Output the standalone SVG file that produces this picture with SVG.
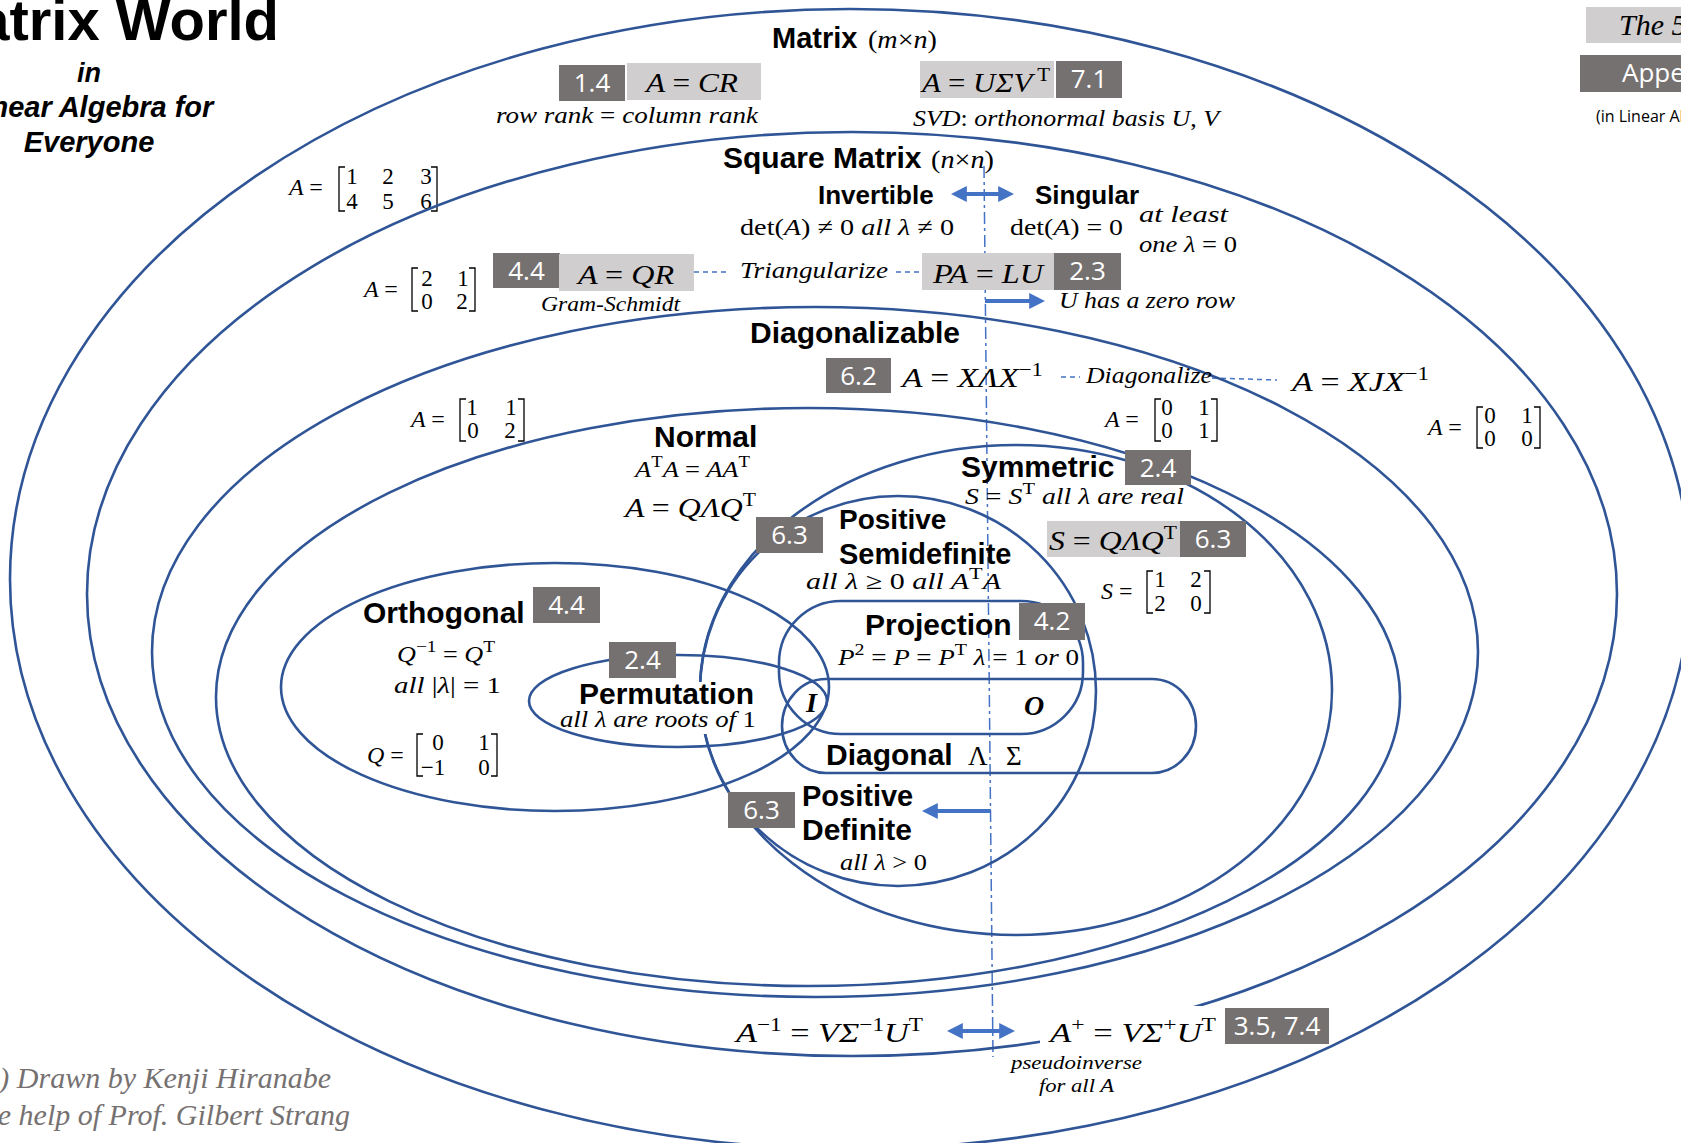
<svg xmlns="http://www.w3.org/2000/svg" width="1681" height="1143" viewBox="0 0 1681 1143">
<style>
.el{fill:none;stroke:#2F5597;stroke-width:2.6}
.lbl{font-family:"Liberation Sans",Arial,sans-serif;font-weight:bold;fill:#000}
.m{font-family:"Liberation Serif","DejaVu Serif",serif;font-style:italic;fill:#000}
.u{font-style:normal}
.d{font-family:"Liberation Serif","DejaVu Serif",serif;font-size:23px;fill:#000;text-anchor:middle}
.br{fill:none;stroke:#000;stroke-width:1.3}
.dk{fill:#767171}
.lt{fill:#D0CECE}
.num{font-family:"Open Sans","Noto Sans",sans-serif;fill:#fff;font-size:26px;text-anchor:middle}
.wb{fill:#fff}
.conn{fill:none;stroke:#4472C4}
.arr{stroke-width:4}
.dsh{stroke-width:1.5;stroke-dasharray:5 4}
.vd{stroke-width:1.5;stroke-dasharray:12 4 3 4}
.ttl{font-family:"Liberation Sans",Arial,sans-serif;font-weight:bold;font-style:italic;fill:#000;text-anchor:middle}
.foot{font-family:"Liberation Serif",serif;font-style:italic;fill:#767171;font-size:30px;text-anchor:end}
</style>
<defs>
<marker id="ah" viewBox="0 0 10 10" refX="3" refY="5" markerWidth="16" markerHeight="16" markerUnits="userSpaceOnUse" orient="auto-start-reverse">
<path d="M0,0 L10,5 L0,10 z" fill="#4472C4"/>
</marker>
</defs>
<rect width="1681" height="1143" fill="#fff"/>

<g id="title">
<text class="lbl" x="279" y="40" font-size="58" text-anchor="end">Matrix World</text>
<text class="ttl" x="89" y="82" font-size="27">in</text>
<text class="ttl" x="89" y="117" font-size="29">Linear Algebra for</text>
<text class="ttl" x="89" y="152" font-size="29">Everyone</text>
</g>

<g id="topright">
<rect class="lt" x="1586" y="7" width="100" height="36"/>
<text class="m" x="1619" y="35" font-size="30">The 5 Factorizations of a Matrix</text>
<rect class="dk" x="1580" y="55" width="110" height="37"/>
<text class="num" x="1622" y="82" style="text-anchor:start">Appendix</text>
<text x="1596" y="122" font-family="Open Sans, Noto Sans, sans-serif" font-size="16" fill="#000">(in Linear Algebra for Everyone)</text>
</g>

<g id="footer">
<text class="foot" x="331" y="1088">(c) Drawn by Kenji Hiranabe</text>
<text class="foot" x="350" y="1125">With the help of Prof. Gilbert Strang</text>
</g>

<g id="connectors">
<path class="conn vd" d="M984,166 L993,1057"/>
<path class="conn arr" d="M962,194 H1003" marker-start="url(#ah)" marker-end="url(#ah)"/>
<path class="conn arr" d="M985,301 H1034" marker-end="url(#ah)"/>
<path class="conn arr" d="M991,811 H933" marker-end="url(#ah)"/>
<path class="conn arr" d="M958,1031 H1004" marker-start="url(#ah)" marker-end="url(#ah)"/>
<path class="conn dsh" d="M694,272 H730 M896,272 H922"/>
<path class="conn dsh" d="M1061,377 H1080 M1212,378 L1277,380"/>
</g>

<g id="matrix">
<ellipse class="el" cx="850" cy="579" rx="840" ry="570"/>
<text class="lbl" x="772" y="48" font-size="29">Matrix</text>
<text class="m" x="868" y="48" font-size="25" textLength="69" lengthAdjust="spacingAndGlyphs"><tspan class="u">(</tspan>m<tspan class="u">×</tspan>n<tspan class="u">)</tspan></text>
<rect class="dk" x="559" y="65" width="66" height="36"/>
<text class="num" x="592" y="92">1.4</text>
<rect class="lt" x="627" y="63" width="134" height="37"/>
<text class="m" x="646" y="92" font-size="28" textLength="92" lengthAdjust="spacingAndGlyphs">A <tspan class="u">=</tspan> CR</text>
<text class="m" x="496" y="123" font-size="23" textLength="262" lengthAdjust="spacingAndGlyphs">row rank <tspan class="u">=</tspan> column rank</text>
<rect class="lt" x="920" y="61" width="134" height="37"/>
<text class="m" x="922" y="92" font-size="28" textLength="128" lengthAdjust="spacingAndGlyphs">A <tspan class="u">=</tspan> UΣV<tspan class="u" dy="-11" font-size="19"> T</tspan></text>
<rect class="dk" x="1056" y="61" width="66" height="37"/>
<text class="num" x="1089" y="88">7.1</text>
<text class="m" x="913" y="126" font-size="23" textLength="306" lengthAdjust="spacingAndGlyphs">SVD<tspan class="u">:</tspan>  orthonormal basis U<tspan class="u">,</tspan> V</text>
<text class="m" x="289" y="195" font-size="24">A <tspan class="u">=</tspan></text>
<path class="br" d="M345,167 H339 V211 H345 M431,167 H437 V211 H431"/>
<text class="d" x="352" y="184">1</text><text class="d" x="388" y="184">2</text><text class="d" x="426" y="184">3</text>
<text class="d" x="352" y="209">4</text><text class="d" x="388" y="209">5</text><text class="d" x="426" y="209">6</text>
</g>

<g id="square">
<ellipse class="el" cx="852" cy="594" rx="765" ry="462"/>
<text class="lbl" x="723" y="168" font-size="30">Square Matrix</text>
<text class="m" x="931" y="168" font-size="25" textLength="63" lengthAdjust="spacingAndGlyphs"><tspan class="u">(</tspan>n<tspan class="u">×</tspan>n<tspan class="u">)</tspan></text>
<text class="m" x="364" y="297" font-size="24">A <tspan class="u">=</tspan></text>
<path class="br" d="M418,268 H412 V311 H418 M469,268 H475 V311 H469"/>
<text class="d" x="427" y="286">2</text><text class="d" x="463" y="286">1</text>
<text class="d" x="427" y="309">0</text><text class="d" x="462" y="309">2</text>
<text class="m" x="740" y="278" font-size="24" textLength="148" lengthAdjust="spacingAndGlyphs">Triangularize</text>
<text class="m" x="1428" y="435" font-size="24">A <tspan class="u">=</tspan></text>
<path class="br" d="M1483,407 H1477 V448 H1483 M1534,407 H1540 V448 H1534"/>
<text class="d" x="1490" y="423">0</text><text class="d" x="1527" y="423">1</text>
<text class="d" x="1490" y="446">0</text><text class="d" x="1527" y="446">0</text>
<text class="m" x="1292" y="391" font-size="28" textLength="137" lengthAdjust="spacingAndGlyphs">A <tspan class="u">=</tspan> XJX<tspan class="u" dy="-11" font-size="19">−1</tspan></text>
</g>

<g id="invertible">
<text class="lbl" x="818" y="204" font-size="26">Invertible</text>
<text class="m" x="740" y="235" font-size="24" textLength="214" lengthAdjust="spacingAndGlyphs"><tspan class="u">det(</tspan>A<tspan class="u">) ≠ 0  </tspan>all λ <tspan class="u">≠ 0</tspan></text>
<rect class="dk" x="493" y="253" width="67" height="35"/>
<text class="num" x="526.5" y="280">4.4</text>
<rect class="lt" x="559" y="254" width="135" height="37"/>
<text class="m" x="578" y="284" font-size="28" textLength="96" lengthAdjust="spacingAndGlyphs">A <tspan class="u">=</tspan> QR</text>
<text class="m" x="541" y="311" font-size="21" textLength="139" lengthAdjust="spacingAndGlyphs">Gram-Schmidt</text>
</g>

<g id="singular">
<text class="lbl" x="1035" y="204" font-size="26">Singular</text>
<text class="m" x="1010" y="235" font-size="24" textLength="113" lengthAdjust="spacingAndGlyphs"><tspan class="u">det(</tspan>A<tspan class="u">)  = 0</tspan></text>
<text class="m" x="1139" y="222" font-size="23" textLength="89" lengthAdjust="spacingAndGlyphs">at least</text>
<text class="m" x="1139" y="252" font-size="23" textLength="98" lengthAdjust="spacingAndGlyphs">one λ <tspan class="u">= 0</tspan></text>
<rect class="lt" x="922" y="253" width="132" height="37"/>
<text class="m" x="933" y="283" font-size="28" textLength="110" lengthAdjust="spacingAndGlyphs">PA <tspan class="u">=</tspan> LU</text>
<rect class="dk" x="1054" y="253" width="67" height="37"/>
<text class="num" x="1087.5" y="280">2.3</text>
<text class="m" x="1059" y="308" font-size="23" textLength="176" lengthAdjust="spacingAndGlyphs">U has a zero row</text>
</g>

<g id="diagonalizable">
<ellipse class="el" cx="815" cy="652" rx="663" ry="345"/>
<text class="lbl" x="750" y="343" font-size="30">Diagonalizable</text>
<rect class="dk" x="826" y="358" width="65" height="35"/>
<text class="num" x="858.5" y="385">6.2</text>
<text class="m" x="902" y="387" font-size="28" textLength="141" lengthAdjust="spacingAndGlyphs">A <tspan class="u">=</tspan> XΛX<tspan class="u" dy="-11" font-size="19">−1</tspan></text>
<text class="m" x="1086" y="383" font-size="23" textLength="126" lengthAdjust="spacingAndGlyphs">Diagonalize</text>
<text class="m" x="411" y="427" font-size="24">A <tspan class="u">=</tspan></text>
<path class="br" d="M466,399 H460 V441 H466 M518,399 H524 V441 H518"/>
<text class="d" x="472" y="415">1</text><text class="d" x="511" y="415">1</text>
<text class="d" x="473" y="438">0</text><text class="d" x="510" y="438">2</text>
<text class="m" x="1105" y="427" font-size="24">A <tspan class="u">=</tspan></text>
<path class="br" d="M1161,399 H1155 V441 H1161 M1211,399 H1217 V441 H1211"/>
<text class="d" x="1167" y="415">0</text><text class="d" x="1204" y="415">1</text>
<text class="d" x="1167" y="438">0</text><text class="d" x="1204" y="438">1</text>
</g>

<g id="normal">
<ellipse class="el" cx="808" cy="697" rx="592" ry="289"/>
<text class="lbl" x="654" y="447" font-size="30">Normal</text>
<text class="m" x="635" y="477" font-size="24" textLength="115" lengthAdjust="spacingAndGlyphs">A<tspan class="u" dy="-10" font-size="17">T</tspan><tspan dy="10">A </tspan><tspan class="u">=</tspan> AA<tspan class="u" dy="-10" font-size="17">T</tspan></text>
<text class="m" x="625" y="517" font-size="28" textLength="131" lengthAdjust="spacingAndGlyphs">A <tspan class="u">=</tspan> QΛQ<tspan class="u" dy="-11" font-size="19">T</tspan></text>
</g>

<g id="symmetric">
<ellipse class="el" cx="1016" cy="690" rx="316" ry="245"/>
<text class="lbl" x="961" y="477" font-size="30">Symmetric</text>
<rect class="dk" x="1125" y="450" width="66" height="35"/>
<text class="num" x="1158" y="477">2.4</text>
<text class="m" x="965" y="504" font-size="23" textLength="219" lengthAdjust="spacingAndGlyphs">S <tspan class="u">=</tspan> S<tspan class="u" dy="-10" font-size="17">T</tspan><tspan dy="10">   all λ are real</tspan></text>
<rect class="lt" x="1047" y="521" width="133" height="36"/>
<text class="m" x="1049" y="550" font-size="28" textLength="128" lengthAdjust="spacingAndGlyphs">S <tspan class="u">=</tspan> QΛQ<tspan class="u" dy="-11" font-size="19">T</tspan></text>
<rect class="dk" x="1180" y="521" width="66" height="36"/>
<text class="num" x="1213" y="548">6.3</text>
<text class="m" x="1101" y="599" font-size="24">S <tspan class="u">=</tspan></text>
<path class="br" d="M1153,571 H1147 V613 H1153 M1204,571 H1210 V613 H1204"/>
<text class="d" x="1160" y="587">1</text><text class="d" x="1196" y="587">2</text>
<text class="d" x="1160" y="611">2</text><text class="d" x="1196" y="611">0</text>
</g>

<g id="semidefinite">
<ellipse class="el" cx="898" cy="691" rx="198" ry="195"/>
<rect class="dk" x="756" y="517" width="67" height="36"/>
<text class="num" x="789.5" y="544">6.3</text>
<text class="lbl" x="839" y="529" font-size="28">Positive</text>
<text class="lbl" x="839" y="564" font-size="29">Semidefinite</text>
<text class="m" x="806" y="589" font-size="23" textLength="195" lengthAdjust="spacingAndGlyphs">all λ <tspan class="u">≥ 0    </tspan>all A<tspan class="u" dy="-10" font-size="17">T</tspan><tspan dy="10">A</tspan></text>
</g>

<g id="orthogonal">
<ellipse class="el" cx="555" cy="687" rx="274" ry="124"/>
<text class="lbl" x="363" y="623" font-size="30">Orthogonal</text>
<rect class="dk" x="533" y="587" width="67" height="36"/>
<text class="num" x="566.5" y="614">4.4</text>
<text class="m" x="397" y="662" font-size="23" textLength="98" lengthAdjust="spacingAndGlyphs">Q<tspan class="u" dy="-10" font-size="17">−1</tspan><tspan dy="10"> </tspan><tspan class="u">=</tspan> Q<tspan class="u" dy="-10" font-size="17">T</tspan></text>
<text class="m" x="394" y="693" font-size="23" textLength="107" lengthAdjust="spacingAndGlyphs">all  <tspan class="u">|</tspan>λ<tspan class="u">| = 1</tspan></text>
<text class="m" x="367" y="763" font-size="24">Q <tspan class="u">=</tspan></text>
<path class="br" d="M423,734 H417 V776 H423 M491,734 H497 V776 H491"/>
<text class="d" x="438" y="750">0</text><text class="d" x="484" y="750">1</text>
<text class="d" x="433" y="775">−1</text><text class="d" x="484" y="775">0</text>
</g>

<g id="permutation">
<ellipse class="el" cx="678" cy="701" rx="149" ry="46"/>
<rect class="wb" x="578" y="682" width="180" height="52"/>
<rect class="dk" x="609" y="642" width="67" height="36"/>
<text class="num" x="642.5" y="669">2.4</text>
<text class="lbl" x="579" y="704" font-size="30">Permutation</text>
<text class="m" x="560" y="727" font-size="23" textLength="196" lengthAdjust="spacingAndGlyphs">all  λ are roots of <tspan class="u">1</tspan></text>
</g>

<g id="projection">
<rect class="el" x="779" y="601" width="304" height="133" rx="62" ry="62"/>
<text class="lbl" x="865" y="635" font-size="30">Projection</text>
<rect class="dk" x="1019" y="603" width="66" height="37"/>
<text class="num" x="1052" y="630">4.2</text>
<text class="m" x="838" y="665" font-size="23" textLength="241" lengthAdjust="spacingAndGlyphs">P<tspan class="u" dy="-10" font-size="17">2</tspan><tspan dy="10"> </tspan><tspan class="u">=</tspan> P <tspan class="u">=</tspan> P<tspan class="u" dy="-10" font-size="17">T</tspan><tspan dy="10">  λ </tspan><tspan class="u">= 1 </tspan>or <tspan class="u">0</tspan></text>
</g>

<g id="diagonal">
<rect class="el" x="782" y="679" width="414" height="94" rx="44" ry="47"/>
<text class="lbl" x="826" y="765" font-size="30">Diagonal</text>
<text class="m u" x="968" y="765" font-size="27">Λ</text>
<text class="m u" x="1006" y="765" font-size="27">Σ</text>
</g>

<g id="identity">
<text class="m" x="806" y="712" font-size="28" font-weight="bold">I</text>
</g>
<g id="zero">
<text class="m" x="1024" y="715" font-size="28" font-weight="bold">O</text>
</g>

<g id="definite">
<rect class="dk" x="728" y="792" width="67" height="36"/>
<text class="num" x="761.5" y="819">6.3</text>
<text class="lbl" x="802" y="806" font-size="29">Positive</text>
<text class="lbl" x="802" y="840" font-size="30">Definite</text>
<text class="m" x="840" y="870" font-size="23" textLength="87" lengthAdjust="spacingAndGlyphs">all λ <tspan class="u">&gt; 0</tspan></text>
</g>

<g id="inverse">
<text class="m" x="736" y="1042" font-size="28" textLength="187" lengthAdjust="spacingAndGlyphs">A<tspan class="u" dy="-11" font-size="19">−1</tspan><tspan dy="11"> </tspan><tspan class="u">=</tspan> VΣ<tspan class="u" dy="-11" font-size="19">−1</tspan><tspan dy="11">U</tspan><tspan class="u" dy="-11" font-size="19">T</tspan></text>
</g>

<g id="pseudoinverse">
<rect class="wb" x="1040" y="1006" width="182" height="44"/>
<text class="m" x="1050" y="1042" font-size="28" textLength="166" lengthAdjust="spacingAndGlyphs">A<tspan class="u" dy="-11" font-size="19">+</tspan><tspan dy="11"> </tspan><tspan class="u">=</tspan> VΣ<tspan class="u" dy="-11" font-size="19">+</tspan><tspan dy="11">U</tspan><tspan class="u" dy="-11" font-size="19">T</tspan></text>
<rect class="dk" x="1225" y="1008" width="104" height="36"/>
<text class="num" x="1277" y="1035">3.5, 7.4</text>
<text class="m" x="1011" y="1069" font-size="19" textLength="131" lengthAdjust="spacingAndGlyphs">pseudoinverse</text>
<text class="m" x="1039" y="1092" font-size="19" textLength="75" lengthAdjust="spacingAndGlyphs">for all A</text>
</g>
</svg>
